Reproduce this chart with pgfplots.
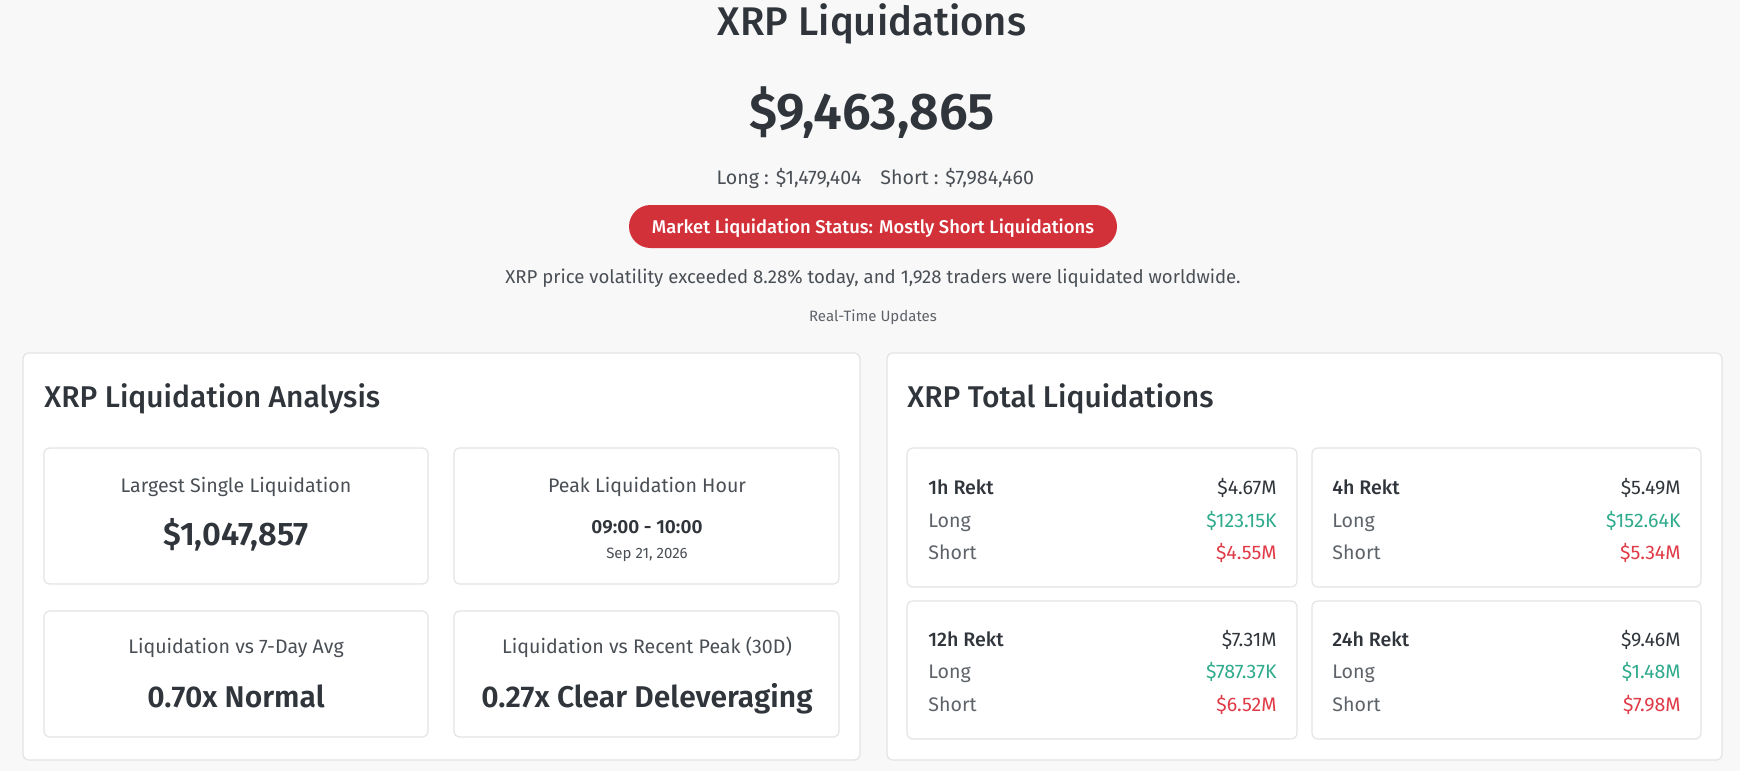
\documentclass[border=0pt]{standalone}
\usepackage{pgfplots}
\pgfplotsset{compat=1.18}
\usepackage{fontspec}
\setmainfont{Fira Sans}[BoldFont={Fira Sans SemiBold}]
\newfontfamily\med{Fira Sans Medium}
\definecolor{bg}{HTML}{F8F8F8}
\definecolor{txt}{HTML}{30353B}
\definecolor{sub}{HTML}{4A4F55}
\definecolor{muted}{HTML}{5E6369}
\definecolor{bord}{HTML}{E4E4E4}
\definecolor{pill}{HTML}{D3313A}
\definecolor{up}{HTML}{2EAA8C}
\definecolor{down}{HTML}{E03A47}
\newcommand{\fs}[1]{\fontsize{#1}{#1}\selectfont}
\newcommand{\card}[4]{\filldraw[fill=white,draw=bord,line width=0.6pt,rounded corners=3pt] (#1,#3) rectangle (#2,#4);}
\newcommand{\rekt}[9]{%
  \node[anchor=base west,inner sep=0,text=txt,font=\fs{9.8}\med] at (#1,#3) {#6};
  \node[anchor=base east,inner sep=0,text=txt,font=\fs{9.8}] at (#2,#3) {\$#7};
  \node[anchor=base west,inner sep=0,text=muted,font=\fs{9.8}] at (#1,#4) {Long};
  \node[anchor=base east,inner sep=0,text=up,font=\fs{9.8}] at (#2,#4) {\$#8};
  \node[anchor=base west,inner sep=0,text=muted,font=\fs{9.8}] at (#1,#5) {Short};
  \node[anchor=base east,inner sep=0,text=down,font=\fs{9.8}] at (#2,#5) {\$#9};}
\begin{document}
\begin{tikzpicture}
\begin{axis}[width=870pt,height=385.5pt,scale only axis,hide axis,
  xmin=0,xmax=1740,ymin=0,ymax=771,y dir=reverse,clip=false]
\fill[bg] (0,0) rectangle (1740,771);
% header
\node[anchor=base,inner sep=0,text=txt,font=\fs{20}\med] at (872,35) {XRP Liquidations};
\node[anchor=base,inner sep=0,text=txt,font=\fs{25.8}\bfseries] at (872,129) {\$9,463,865};
\node[anchor=base east,inner sep=0,text=sub,font=\fs{9.8}] at (862,184) {Long : \$1,479,404};
\node[anchor=base west,inner sep=0,text=sub,font=\fs{9.8}] at (880,184) {Short : \$7,984,460};
\fill[pill,rounded corners=10.75pt] (629,205) rectangle (1117,248);
\node[anchor=base,inner sep=0,text=white,font=\fs{9.2}\med] at (873,233) {Market Liquidation Status: Mostly Short Liquidations};
\node[anchor=base,inner sep=0,text=sub,font=\fs{9.3}] at (873,283) {XRP price volatility exceeded 8.28\% today, and 1,928 traders were liquidated worldwide.};
\node[anchor=base,inner sep=0,text=muted,font=\fs{7.5}] at (873,321) {Real-Time Updates};
% panels
\filldraw[fill=white,draw=bord,line width=0.6pt,rounded corners=3pt] (23,353) rectangle (860,760);
\filldraw[fill=white,draw=bord,line width=0.6pt,rounded corners=3pt] (887,353) rectangle (1722,760);
\node[anchor=base west,inner sep=0,text=txt,font=\fs{15}\med] at (44,407) {XRP Liquidation Analysis};
\node[anchor=base west,inner sep=0,text=txt,font=\fs{15}\med] at (907,407) {XRP Total Liquidations};
% left cards
\card{44}{428}{448}{584}
\card{454}{839}{448}{584}
\card{44}{428}{611}{737}
\card{454}{839}{611}{737}
\node[anchor=base,inner sep=0,text=sub,font=\fs{9.8}] at (236,492) {Largest Single Liquidation};
\node[anchor=base,inner sep=0,text=txt,font=\fs{16.3}\bfseries] at (236,545) {\$1,047,857};
\node[anchor=base,inner sep=0,text=sub,font=\fs{9.8}] at (647,492) {Peak Liquidation Hour};
\node[anchor=base,inner sep=0,text=txt,font=\fs{9.5}\bfseries] at (647,533) {09:00 - 10:00};
\node[anchor=base,inner sep=0,text=sub,font=\fs{7.5}] at (647,558) {Sep 21, 2026};
\node[anchor=base,inner sep=0,text=sub,font=\fs{9.8}] at (236,653) {Liquidation vs 7-Day Avg};
\node[anchor=base,inner sep=0,text=txt,font=\fs{15}\bfseries] at (236,707) {0.70x Normal};
\node[anchor=base,inner sep=0,text=sub,font=\fs{9.8}] at (647,653) {Liquidation vs Recent Peak (30D)};
\node[anchor=base,inner sep=0,text=txt,font=\fs{15}\bfseries] at (647,707) {0.27x Clear Deleveraging};
% right cards
\card{907}{1297}{448}{587}
\card{1312}{1701}{448}{587}
\card{907}{1297}{601}{739}
\card{1312}{1701}{601}{739}
\rekt{928}{1277}{494}{527}{559}{1h Rekt}{4.67M}{123.15K}{4.55M}
\rekt{1332}{1681}{494}{527}{559}{4h Rekt}{5.49M}{152.64K}{5.34M}
\rekt{928}{1277}{646}{678}{711}{12h Rekt}{7.31M}{787.37K}{6.52M}
\rekt{1332}{1681}{646}{678}{711}{24h Rekt}{9.46M}{1.48M}{7.98M}
\end{axis}
\end{tikzpicture}
\end{document}
